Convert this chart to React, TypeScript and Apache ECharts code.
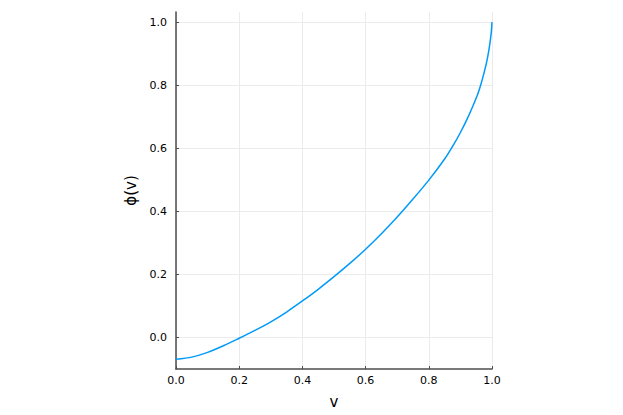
import React, { useEffect, useRef } from "react";
import * as echarts from "echarts";

const vValues = [0, 0.05, 0.1, 0.15, 0.2, 0.25, 0.3, 0.35, 0.4, 0.45, 0.5, 0.55, 0.6, 0.65, 0.7, 0.75, 0.8, 0.85, 0.88, 0.9, 0.92, 0.94, 0.955, 0.965, 0.975, 0.983, 0.99, 0.995, 0.998, 1.0];
const phiValues = [-0.069, -0.062, -0.047, -0.026, -0.002, 0.023, 0.05, 0.081, 0.116, 0.153, 0.193, 0.235, 0.28, 0.329, 0.382, 0.439, 0.499, 0.566, 0.614, 0.65, 0.69, 0.735, 0.772, 0.803, 0.84, 0.873, 0.91, 0.945, 0.97, 1.0];
const xTicks = [0, 0.2, 0.4, 0.6, 0.8, 1.0];
const yTicks = [0, 0.2, 0.4, 0.6, 0.8, 1.0];

export default function App() {
  const ref = useRef<HTMLDivElement>(null);
  useEffect(() => {
    if (!ref.current) return;
    const chart = echarts.init(ref.current, null, { renderer: "svg" });
    const font = "DejaVu Sans";
    const axisColor = "#4d4d4d";
    const gridColor = "#ebebeb";
    chart.setOption({
      animation: false,
      backgroundColor: "#ffffff",
      grid: { left: 176, right: 131, top: 12, bottom: 46, containLabel: false },
      xAxis: {
        type: "value",
        min: 0,
        max: 1,
        interval: 0.2,
        name: "v",
        nameLocation: "middle",
        nameGap: 25,
        nameTextStyle: { fontFamily: font, fontSize: 15, color: "#000" },
        axisLine: { show: true, onZero: false, lineStyle: { color: axisColor, width: 1.5 } },
        axisTick: { show: true, inside: true, length: 3, lineStyle: { color: axisColor, width: 1 } },
        axisLabel: {
          fontFamily: font,
          fontSize: 11,
          color: "#000",
          margin: 6,
          customValues: xTicks,
          formatter: (v: number) => v.toFixed(1),
        },
        splitLine: { show: true, lineStyle: { color: gridColor, width: 1 } },
      },
      yAxis: {
        type: "value",
        min: -0.0996,
        max: 1.032,
        name: "ϕ(v)",
        nameLocation: "middle",
        nameGap: 36,
        nameRotate: 90,
        nameTextStyle: { fontFamily: font, fontSize: 15, color: "#000" },
        axisLine: { show: true, onZero: false, lineStyle: { color: axisColor, width: 1.5 } },
        axisTick: { show: true, inside: true, length: 3, customValues: yTicks, lineStyle: { color: axisColor, width: 1 } },
        axisLabel: {
          fontFamily: font,
          fontSize: 11,
          color: "#000",
          margin: 9,
          customValues: yTicks,
          formatter: (v: number) => v.toFixed(1),
        },
        splitLine: { show: true, lineStyle: { color: gridColor, width: 1 } },
      },
      series: [
        {
          type: "line",
          data: vValues.map((v, i) => [v, phiValues[i]]),
          smooth: 0.3,
          showSymbol: false,
          lineStyle: { color: "#009af9", width: 1.5 },
          clip: false,
        },
      ],
    });
    return () => chart.dispose();
  }, []);
  return <div ref={ref} style={{ width: 623, height: 415, position: "absolute", left: 0, top: 0 }} />;
}
